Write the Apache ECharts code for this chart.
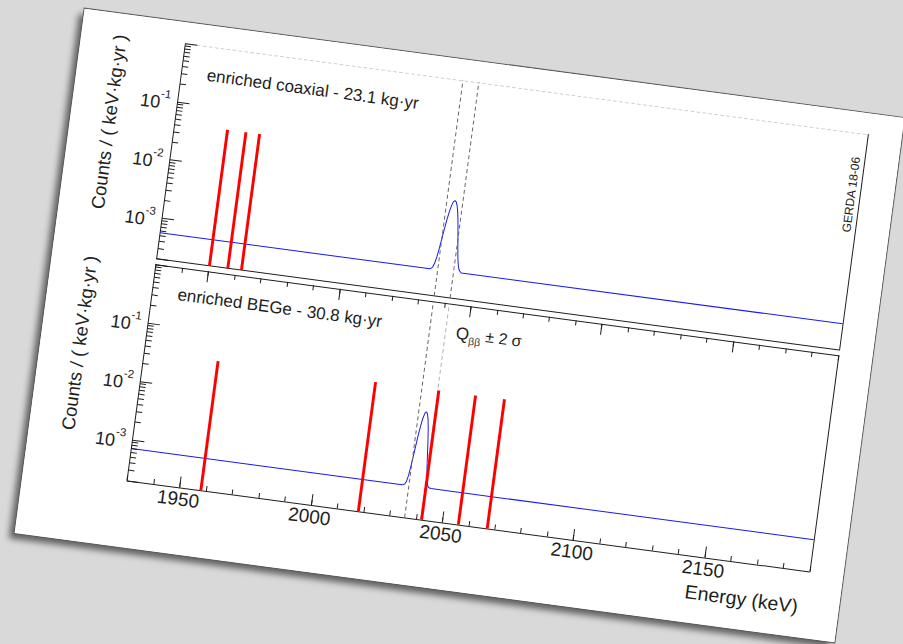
<!DOCTYPE html>
<html><head><meta charset="utf-8">
<script src="https://cdn.jsdelivr.net/npm/echarts@6/dist/echarts.min.js"></script>
<style>
html,body{margin:0;padding:0;background:#d9d9d9;width:903px;height:644px;overflow:hidden;}
#paper{position:absolute;left:45.5px;top:61px;width:827px;height:529px;background:#fff;transform:rotate(7.6deg);transform-origin:50% 50%;box-shadow:0 0 0 1px #5a5a5a,-5px 6px 6px rgba(0,0,0,0.55);}
#chart{width:827px;height:529px;}
</style></head><body><div id="paper"><div id="chart"></div></div>
<script>
// ---- data ----
const xMin = 1930, xMax = 2190, xMinorStep = 10;
const xMajorTicks = [1950, 2000, 2050, 2100, 2150];
const yMin = 2e-4, yMax = 1;
const yTickExponents = [-3, -2, -1];
const yMinorTicks = [3e-4,4e-4,5e-4,6e-4,7e-4,8e-4,9e-4,
  2e-3,3e-3,4e-3,5e-3,6e-3,7e-3,8e-3,9e-3,
  2e-2,3e-2,4e-2,5e-2,6e-2,7e-2,8e-2,9e-2,
  2e-1,3e-1,4e-1,5e-1,6e-1,7e-1,8e-1,9e-1];

const coaxEventEnergies = [1950.1, 1957.1, 1962.3];
const coaxEventValues   = [0.0433, 0.0433, 0.0433];
const begeEventEnergies = [1958.1, 2018.1, 2042.2, 2056.2, 2067.2];
const begeEventValues   = [0.0325, 0.0325, 0.0325, 0.0325, 0.0325];

const coaxFitEnergies = [1930, 2032.8, 2033.3, 2033.8, 2034.3, 2034.8, 2035.3, 2035.8, 2036.3, 2036.8, 2037.3, 2037.8, 2038.3, 2038.8,
  2039.3, 2039.8, 2040.3, 2040.8, 2041.3, 2041.8, 2042.3, 2042.8, 2043.3, 2043.8, 2044.3, 2044.8, 2190];
const coaxFitValues = [5.6e-4, 5.6e-4, 5.8e-4, 6.2e-4, 7.2e-4, 9.3e-4, 1.33e-3, 2.02e-3, 3.05e-3, 4.43e-3, 6.0e-3, 7.5e-3, 8.6e-3, 9.0e-3,
  8.6e-3, 7.5e-3, 6.0e-3, 4.43e-3, 3.05e-3, 2.02e-3, 1.33e-3, 9.3e-4, 7.2e-4, 6.2e-4, 5.8e-4, 5.6e-4, 5.6e-4];

const begeFitEnergies = [1930, 2033.1, 2033.6, 2034.1, 2034.6, 2035.1, 2035.6, 2036.1, 2036.6, 2037.1, 2037.6, 2038.1, 2038.6,
  2039.1, 2039.6, 2040.1, 2040.6, 2041.1, 2041.6, 2042.1, 2042.6, 2043.1, 2043.6, 2044.1, 2190];
const begeFitValues = [7.0e-4, 7.0e-4, 7.1e-4, 7.3e-4, 8.1e-4, 1.04e-3, 1.59e-3, 2.7e-3, 4.59e-3, 7.23e-3, 1.015e-2, 1.25e-2, 1.34e-2,
  1.25e-2, 1.015e-2, 7.23e-3, 4.59e-3, 2.7e-3, 1.59e-3, 1.04e-3, 8.1e-4, 7.3e-4, 7.1e-4, 7.0e-4, 7.0e-4];

const qbbWindow = [2035.8, 2041.7];

// ---- styling ----
const FONT = '"Liberation Sans", Arial, Helvetica, sans-serif';
const INK = '#1e1e1e';

function yLabel(v) {
  const l = Math.log10(v), e = Math.round(l);
  if (Math.abs(l - e) > 1e-6 || yTickExponents.indexOf(e) < 0) return '';
  return '{b|10}{e|' + e + '}';
}
function yAx(grid, pos, labels) {
  return { type: 'log', logBase: 10, gridIndex: grid, position: pos, min: yMin, max: yMax,
    axisLine: { show: true, onZero: false, lineStyle: { color: INK, width: 1 } },
    axisTick: { show: labels, inside: true, length: 12, lineStyle: { color: INK } },
    minorTick: { show: false }, splitLine: { show: false },
    axisLabel: { show: labels, margin: 7, formatter: yLabel, color: INK, fontFamily: FONT,
      rich: { b: { fontSize: 18, fontFamily: FONT, color: INK, lineHeight: 24, verticalAlign: 'bottom' },
              e: { fontSize: 11.5, fontFamily: FONT, color: INK, lineHeight: 14, verticalAlign: 'top' } } } };
}
function xAx(grid, pos, opts) {
  return Object.assign({ type: 'value', gridIndex: grid, position: pos, min: xMin, max: xMax, interval: xMinorStep,
    axisLine: { show: false, onZero: false }, axisTick: { show: false }, axisLabel: { show: false },
    splitLine: { show: false } }, opts);
}
const solid = { show: true, onZero: false, lineStyle: { color: INK, width: 1 } };

function fitSeries(xi, yi, E, V, dashColors) {
  return { type: 'line', xAxisIndex: xi, yAxisIndex: yi, data: E.map((e, i) => [e, V[i]]),
    showSymbol: false, symbol: 'none', lineStyle: { color: '#1a1aee', width: 1 }, z: 3, silent: true, animation: false,
    markLine: { symbol: 'none', silent: true, animation: false, label: { show: false },
      data: qbbWindow.map((q, i) => ({ xAxis: q, lineStyle: { color: dashColors[i], type: [4, 3], width: 1 } })) } };
}
function eventSeries(xi, yi, E, V) {
  return { type: 'custom', xAxisIndex: xi, yAxisIndex: yi, data: E.map((e, i) => [e, V[i]]), z: 6,
    animation: false, silent: true,
    renderItem: (p, api) => {
      const e = api.value(0), v = api.value(1);
      const top = api.coord([e, v]), bot = api.coord([e, yMin]);
      const l = api.coord([e - 0.55, v])[0], r = api.coord([e + 0.55, v])[0];
      return { type: 'rect', shape: { x: l, y: top[1], width: r - l, height: bot[1] - top[1] }, style: { fill: '#ff0000' } };
    } };
}
function minorTickSeries(xi, yi) {
  return { type: 'custom', xAxisIndex: xi, yAxisIndex: yi, data: yMinorTicks.map(v => [xMin, v]), clip: false,
    silent: true, animation: false, z: 4,
    renderItem: (p, api) => {
      const pt = api.coord([api.value(0), api.value(1)]);
      return { type: 'line', shape: { x1: pt[0], y1: pt[1], x2: pt[0] + 6, y2: pt[1] }, style: { stroke: INK, lineWidth: 1 } };
    } };
}
function txt(text, x, y, size, extra) {
  return Object.assign({ type: 'text', x: x, y: y, silent: true,
    style: Object.assign({ text: text, fill: INK, fontSize: size, fontFamily: FONT, align: 'left', verticalAlign: 'middle' }, extra && extra.style) },
    extra && extra.el);
}

const chart = echarts.init(document.getElementById('chart'), null, { renderer: 'svg', width: 827, height: 529 });
chart.setOption({
  animation: false,
  backgroundColor: '#ffffff',
  grid: [
    { left: 104.5, right: 34, top: 21, height: 217.5 },
    { left: 104.5, right: 34, top: 244, height: 218 }
  ],
  xAxis: [
    xAx(0, 'bottom', { axisLine: solid }),
    xAx(0, 'top', { axisLine: { show: true, onZero: false, lineStyle: { color: '#cfcfcf', width: 1, type: [3, 3] } } }),
    xAx(1, 'bottom', { axisLine: solid, axisTick: { show: true, inside: true, length: 5, lineStyle: { color: INK } } }),
    xAx(1, 'bottom', { axisTick: { show: true, inside: true, length: 11, customValues: xMajorTicks, lineStyle: { color: INK } },
      axisLabel: { show: true, customValues: xMajorTicks, fontSize: 19, color: INK, fontFamily: FONT, margin: 2,
        formatter: v => String(v) } }),
    xAx(1, 'top', { axisLine: solid, axisTick: { show: true, inside: true, length: 5, lineStyle: { color: INK } } }),
    xAx(1, 'top', { axisTick: { show: true, inside: true, length: 11, customValues: xMajorTicks, lineStyle: { color: INK } } })
  ],
  yAxis: [ yAx(0, 'left', true), yAx(0, 'right', false), yAx(1, 'left', true), yAx(1, 'right', false) ],
  series: [
    fitSeries(0, 0, coaxFitEnergies, coaxFitValues, ['#666666', '#666666']),
    fitSeries(2, 2, begeFitEnergies, begeFitValues, ['#666666', '#b5b5b5']),
    eventSeries(0, 0, coaxEventEnergies, coaxEventValues),
    eventSeries(2, 2, begeEventEnergies, begeEventValues),
    minorTickSeries(0, 0),
    minorTickSeries(2, 2)
  ],
  graphic: [
    txt('enriched coaxial - 23.1 kg\u00b7yr', 130, 50, 17),
    txt('enriched BEGe - 30.8 kg\u00b7yr', 130, 271, 17),
    txt('{q|Q}{s|\u03b2\u03b2}{n| \u00b1 2 \u03c3}', 411, 274, 17, { style: { rich: {
      q: { fontSize: 17, fontFamily: FONT, fill: INK, lineHeight: 20, verticalAlign: 'top' },
      s: { fontSize: 10.5, fontFamily: FONT, fill: '#444', lineHeight: 12, verticalAlign: 'bottom' },
      n: { fontSize: 16, fontFamily: FONT, fill: INK, lineHeight: 20, verticalAlign: 'top' } } } }),
    txt('GERDA 18-06', 784.5, 83, 12, { style: { align: 'center' }, el: { rotation: Math.PI / 2 } }),
    txt('Counts / ( keV\u00b7kg\u00b7yr )', 39, 21, 18.5, { style: { align: 'right' }, el: { rotation: Math.PI / 2 } }),
    txt('Counts / ( keV\u00b7kg\u00b7yr )', 39, 244, 18.5, { style: { align: 'right' }, el: { rotation: Math.PI / 2 } }),
    txt('Energy (keV)', 786, 498, 19.5, { style: { align: 'right' } })
  ]
});
</script></body></html>
